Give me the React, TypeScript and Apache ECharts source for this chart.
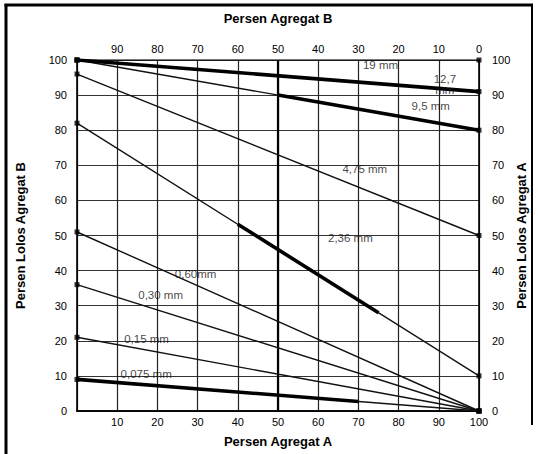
import React, { useEffect, useRef } from "react";
import * as echarts from "echarts";

// Persen Agregat A (x) from 0 to 100; each sieve line joins left value (Agregat B) to right value (Agregat A)
const sieveNames = ["19 mm", "12,7 mm", "9,5 mm", "4,75 mm", "2,36 mm", "0,60mm", "0,30 mm", "0,15 mm", "0,075 mm"];
const leftValues = [100, 100, 100, 96, 82, 51, 36, 21, 9];
const rightValues = [100, 91, 80, 50, 10, 0, 0, 0, 0];
// thick (highlighted) parts of some lines: [name, xStart, xEnd]
const thickParts: [string, number, number][] = [
  ["12,7 mm", 0, 100],
  ["9,5 mm", 50, 100],
  ["2,36 mm", 40, 75],
  ["0,075 mm", 0, 70],
];
// label anchors in data coordinates [x, y, text]
const lineLabels: [number, number, string][] = [
  [75.5, 98.6, "19 mm"],
  [91.5, 93.0, "12,7\nmm"],
  [88, 87.0, "9,5 mm"],
  [71.6, 68.9, "4,75 mm"],
  [68, 49.3, "2,36 mm"],
  [29.5, 39, "0,60mm"],
  [20.8, 33, "0,30 mm"],
  [17.3, 20.6, "0,15 mm"],
  [17.2, 10.4, "0,075 mm"],
];
const xTicksA = [0, 10, 20, 30, 40, 50, 60, 70, 80, 90, 100];
const yTicks = [0, 10, 20, 30, 40, 50, 60, 70, 80, 90, 100];

const FONT = "'Liberation Sans', Arial, sans-serif";

export default function App() {
  const ref = useRef<HTMLDivElement>(null);
  useEffect(() => {
    if (!ref.current) return;
    const chart = echarts.init(ref.current, null, { renderer: "svg" });
    const valAt = (i: number, x: number) => leftValues[i] + (rightValues[i] - leftValues[i]) * (x / 100);

    const series: any[] = [];
    sieveNames.forEach((n, i) => {
      series.push({
        type: "line",
        name: n,
        xAxisIndex: 0,
        yAxisIndex: 0,
        data: [[0, leftValues[i]], [100, rightValues[i]]],
        symbol: "none",
        lineStyle: { color: "#111", width: 1.4 },
        z: 3,
      });
    });
    thickParts.forEach(([n, a, b]) => {
      const i = sieveNames.indexOf(n);
      series.push({
        type: "line",
        name: n + " thick",
        xAxisIndex: 0,
        yAxisIndex: 0,
        data: [[a, valAt(i, a)], [b, valAt(i, b)]],
        symbol: "none",
        lineStyle: { color: "#000", width: 3.6 },
        z: 4,
      });
    });
    // end points
    const pts: number[][] = [];
    leftValues.forEach((v) => pts.push([0, v]));
    rightValues.forEach((v) => pts.push([100, v]));
    series.push({
      type: "scatter",
      xAxisIndex: 0,
      yAxisIndex: 0,
      data: pts,
      symbol: "rect",
      symbolSize: 5,
      itemStyle: { color: "#000" },
      z: 5,
    });
    series.push({
      type: "scatter",
      xAxisIndex: 0,
      yAxisIndex: 0,
      data: lineLabels.map(([x, y, t]) => ({ value: [x, y], name: t })),
      symbolSize: 0,
      label: {
        show: true,
        position: "inside",
        formatter: (p: any) => p.name,
        color: "#111",
        fontSize: 11.5,
        fontFamily: FONT,
        lineHeight: 11,
      },
      z: 6,
    });

    const axisLabelStyle = { color: "#000", fontSize: 11, fontFamily: FONT };
    const nameStyle = { color: "#000", fontSize: 13, fontWeight: "bold" as const, fontFamily: FONT };

    chart.setOption({
      animation: false,
      backgroundColor: "#fff",
      grid: { left: 77, right: 59, top: 60, bottom: 43, containLabel: false, outerBoundsMode: "none" },
      xAxis: [
        {
          type: "value",
          position: "bottom",
          min: 0,
          max: 100,
          interval: 10,
          name: "Persen Agregat A",
          nameLocation: "middle",
          nameGap: 24,
          nameMoveOverlap: false,
          nameTextStyle: nameStyle,
          axisLine: { show: true, lineStyle: { color: "#000", width: 1.6 } },
          axisTick: { show: false },
          axisLabel: { ...axisLabelStyle, margin: 5, formatter: (v: number) => (v === 0 ? "" : String(v)) },
          splitLine: {
            show: true,
            lineStyle: { color: xTicksA.map(() => "#222"), width: 1.2 },
          },
        },
        {
          type: "value",
          position: "top",
          min: 0,
          max: 100,
          interval: 10,
          inverse: true,
          name: "Persen Agregat B",
          nameLocation: "middle",
          nameGap: 35,
          nameMoveOverlap: false,
          nameTextStyle: nameStyle,
          axisLine: { show: true, lineStyle: { color: "#000", width: 1.6 } },
          axisTick: { show: false },
          axisLabel: { ...axisLabelStyle, margin: 6, formatter: (v: number) => (v === 100 ? "" : String(v)) },
          splitLine: { show: false },
        },
      ],
      yAxis: [
        {
          type: "value",
          position: "left",
          min: 0,
          max: 100,
          interval: 10,
          name: "Persen Lolos Agregat B",
          nameLocation: "middle",
          nameRotate: 90,
          nameGap: 50,
          nameMoveOverlap: false,
          nameTextStyle: nameStyle,
          axisLine: { show: true, lineStyle: { color: "#000", width: 1.6 } },
          axisTick: { show: false },
          axisLabel: { ...axisLabelStyle, margin: 10 },
          splitLine: { show: true, lineStyle: { color: yTicks.map(() => "#333"), width: 1 } },
        },
        {
          type: "value",
          position: "right",
          min: 0,
          max: 100,
          interval: 10,
          name: "Persen Lolos Agregat A",
          nameLocation: "middle",
          nameRotate: 90,
          nameGap: 36,
          nameMoveOverlap: false,
          nameTextStyle: nameStyle,
          axisLine: { show: true, lineStyle: { color: "#000", width: 1.6 } },
          axisTick: { show: false },
          axisLabel: { ...axisLabelStyle, margin: 13 },
          splitLine: { show: false },
        },
      ],
      series: [
        ...series,
        {
          type: "line",
          name: "50 line",
          xAxisIndex: 0,
          yAxisIndex: 0,
          data: [[50, 0], [50, 100]],
          symbol: "none",
          lineStyle: { color: "#000", width: 2.2 },
          z: 2,
        },
      ],
      graphic: [
        { type: "line", shape: { x1: 6, y1: 4, x2: 6, y2: 454 }, style: { stroke: "#000", lineWidth: 3 } },
        { type: "line", shape: { x1: 4.5, y1: 5, x2: 533, y2: 5 }, style: { stroke: "#000", lineWidth: 3 } },
        { type: "line", shape: { x1: 532, y1: 4, x2: 532, y2: 425 }, style: { stroke: "#000", lineWidth: 2 } },
      ],
    });
    return () => chart.dispose();
  }, []);
  return <div ref={ref} style={{ position: "fixed", left: 0, top: 0, width: 538, height: 454 }} />;
}
